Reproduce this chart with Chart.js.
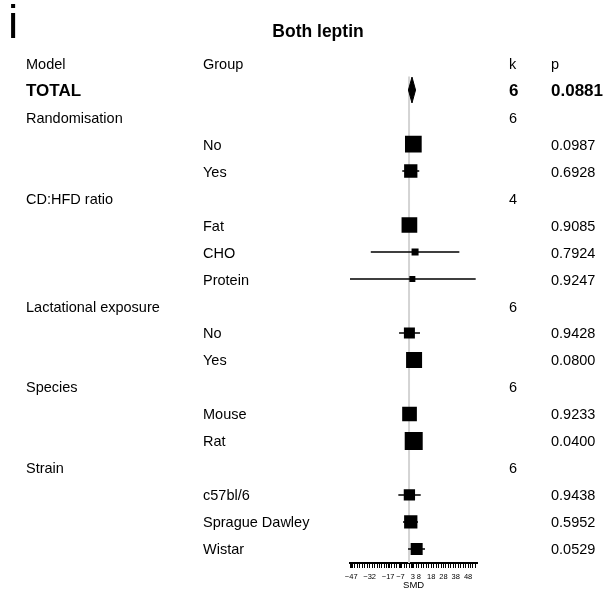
<!DOCTYPE html>
<html>
<head>
<meta charset="utf-8">
<script src="https://cdn.jsdelivr.net/npm/chart.js@4"></script>
<style>
  html, body { margin: 0; padding: 0; background: #fff; }
  canvas { display: block; }
</style>
</head>
<body>
<canvas id="forest" width="610" height="591"></canvas>
<script>
// Table columns, one entry per row below the header
const modelCol = ['TOTAL', 'Randomisation', '', '', 'CD:HFD ratio', '', '', '', 'Lactational exposure', '', '', 'Species', '', '', 'Strain', '', '', ''];
const groupCol = ['', '', 'No', 'Yes', '', 'Fat', 'CHO', 'Protein', '', 'No', 'Yes', '', 'Mouse', 'Rat', '', 'c57bl/6', 'Sprague Dawley', 'Wistar'];
const kCol     = ['6', '6', '', '', '4', '', '', '', '6', '', '', '6', '', '', '6', '', '', ''];
const pCol     = ['0.0881', '', '0.0987', '0.6928', '', '0.9085', '0.7924', '0.9247', '', '0.9428', '0.0800', '', '0.9233', '0.0400', '', '0.9438', '0.5952', '0.0529'];

// Standardised mean differences with confidence limits
const smd    = [2.4, null, 3.5, 1.4, null, 0.3, 4.9, 2.7, null, 0.3, 4.1, null, 0.4, 3.8, null, 0.3, 1.4, 6.2];
const ciLow  = [-0.5, null, -0.6, -5.5, null, -4.8, -31.1, -48.5, null, -8.1, -0.5, null, -4.0, 0.2, null, -8.7, -4.9, -0.8];
const ciHigh = [5.3, null, 7.6, 8.3, null, 5.4, 40.9, 54.2, null, 8.9, 8.7, null, 5.0, 7.4, null, 9.5, 7.3, 13.0];
// Relative study weight of each subgroup estimate
const weight = [null, null, 16.7, 13.3, null, 15.7, 7, 6, null, 11, 16, null, 14.7, 18, null, 11.3, 13.3, 12];

// Axis tick labels
const tickLabels = [-47, -32, -17, -7, 3, 8, 18, 28, 38, 48];

const headers = { model: 'Model', group: 'Group', k: 'k', p: 'p' };
const FONT = '"Liberation Sans", Arial, Helvetica, sans-serif';
const DIAMOND_HALF = 0.48;   // half height of the pooled diamond, in rows
const PX_PER_WEIGHT = 1;     // square side per unit of weight
const TEXT_SHIFT = 1.5;      // optical centring of row text

// Row r+1 holds entry r (row 0 is the header)
const squares = [], ciSegments = [];
smd.forEach((v, i) => {
  if (v === null) return;
  if (i === 0) return; // pooled estimate is drawn as a diamond
  squares.push({ x: v, y: i + 1, w: weight[i] });
});
ciLow.forEach((lo, i) => {
  if (lo === null || i === 0) return;
  ciSegments.push({ x: lo, y: i + 1 }, { x: ciHigh[i], y: i + 1 }, { x: null, y: null });
});
const diamond = [
  { x: ciLow[0], y: 1 },
  { x: smd[0], y: 1 - DIAMOND_HALF },
  { x: ciHigh[0], y: 1 },
  { x: smd[0], y: 1 + DIAMOND_HALF },
  { x: ciLow[0], y: 1 }
];
const lastRow = smd.length;

// Minor ticks every 2 units plus the labelled values
const tickValues = Array.from(new Set(
  Array.from({ length: 52 }, (_, i) => -48 + 2 * i).concat(tickLabels)
)).sort((a, b) => a - b);

const tablePlugin = {
  id: 'tableText',
  afterDraw(chart) {
    const ctx = chart.ctx;
    const y = chart.scales.y;
    ctx.save();
    ctx.fillStyle = '#000';

    // panel letter and title
    ctx.textAlign = 'left';
    ctx.textBaseline = 'alphabetic';
    ctx.font = '46px ' + FONT;
    ctx.fillText('i', 8, 38);
    ctx.textAlign = 'center';
    ctx.textBaseline = 'middle';
    ctx.font = 'bold 17.5px ' + FONT;
    ctx.fillText('Both leptin', 318, 32);

    ctx.textAlign = 'left';
    const colX = { model: 26, group: 203, k: 509, p: 551 };
    const y0 = y.getPixelForValue(0) + TEXT_SHIFT;
    ctx.font = '14.5px ' + FONT;
    ctx.fillText(headers.model, colX.model, y0);
    ctx.fillText(headers.group, colX.group, y0);
    ctx.fillText(headers.k, colX.k, y0);
    ctx.fillText(headers.p, colX.p, y0);

    for (let i = 0; i < modelCol.length; i++) {
      const py = y.getPixelForValue(i + 1) + TEXT_SHIFT;
      ctx.font = (i === 0 ? 'bold 17px ' : '14.5px ') + FONT;
      if (modelCol[i]) ctx.fillText(modelCol[i], colX.model, py);
      if (groupCol[i]) ctx.fillText(groupCol[i], colX.group, py);
      if (kCol[i]) ctx.fillText(kCol[i], colX.k, py);
      if (pCol[i]) ctx.fillText(pCol[i], colX.p, py);
    }
    ctx.restore();
  }
};

new Chart(document.getElementById('forest'), {
  type: 'scatter',
  data: {
    datasets: [
      {
        label: 'Pooled',
        data: diamond,
        showLine: true,
        fill: 'shape',
        backgroundColor: '#000',
        borderColor: '#000',
        borderWidth: 1,
        pointRadius: 0,
        order: 1
      },
      {
        label: 'Subgroup estimate',
        data: squares,
        pointStyle: 'rect',
        pointRadius: ctx => (ctx.raw.w * PX_PER_WEIGHT) / (2 * Math.SQRT1_2),
        pointHoverRadius: ctx => (ctx.raw.w * PX_PER_WEIGHT) / (2 * Math.SQRT1_2),
        backgroundColor: '#000',
        borderWidth: 0,
        order: 1
      },
      {
        label: 'CI',
        data: ciSegments,
        showLine: true,
        spanGaps: false,
        borderColor: '#000',
        borderWidth: 1.6,
        pointRadius: 0,
        order: 2
      },
      {
        label: 'No effect',
        data: [{ x: 0, y: 0.5 }, { x: 0, y: lastRow + 0.52 }],
        showLine: true,
        borderColor: '#d4d4d4',
        borderWidth: 2,
        pointRadius: 0,
        order: 3
      }
    ]
  },
  options: {
    responsive: false,
    animation: false,
    devicePixelRatio: 1,
    layout: { padding: { left: 350, right: 132.7, top: 49, bottom: 0 } },
    plugins: {
      legend: { display: false },
      tooltip: { enabled: false },
      title: { display: false }
    },
    scales: {
      x: {
        type: 'linear',
        min: -48,
        max: 55.5,
        afterBuildTicks: axis => { axis.ticks = tickValues.map(v => ({ value: v })); },
        afterFit: axis => { axis.height = 28; },
        grid: {
          drawOnChartArea: false,
          drawTicks: true,
          tickLength: 5,
          color: '#000',
          lineWidth: 1
        },
        border: { display: true, color: '#000', width: 2 },
        ticks: {
          autoSkip: false,
          maxRotation: 0,
          minRotation: 0,
          padding: 4,
          color: '#000',
          font: { family: FONT, size: 7.5 },
          callback: v => tickLabels.includes(v) ? String(v).replace('-', '\u2212') : ''
        },
        title: {
          display: true,
          text: 'SMD',
          color: '#000',
          font: { family: FONT, size: 9.5 },
          padding: { top: 0, bottom: 0 }
        }
      },
      y: {
        type: 'linear',
        display: false,
        reverse: true,
        min: -0.52,
        max: lastRow + 0.52
      }
    }
  },
  plugins: [tablePlugin]
});
</script>
</body>
</html>
